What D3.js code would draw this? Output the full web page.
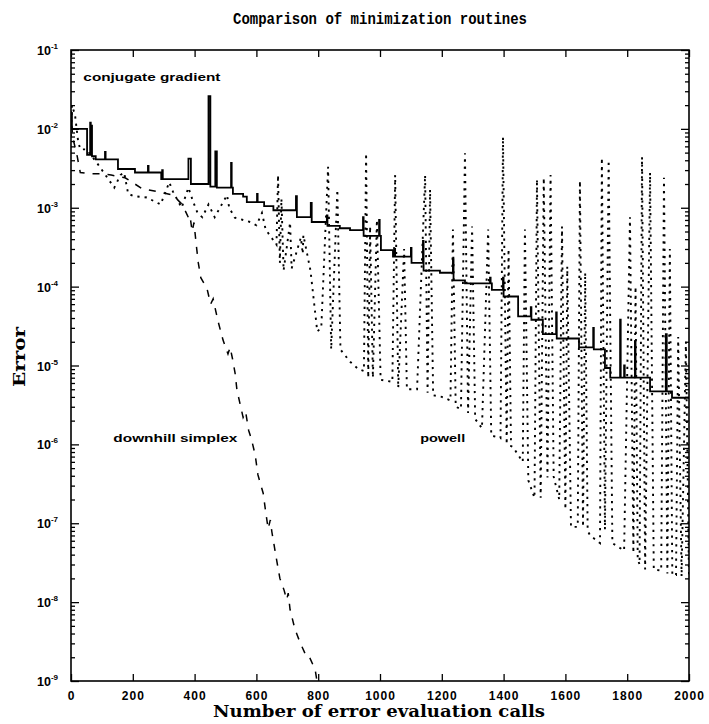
<!DOCTYPE html>
<html>
<head>
<meta charset="utf-8">
<script src="https://cdn.jsdelivr.net/npm/d3@7"></script>
<style>
  body { margin: 0; background: #fff; }
  svg { display: block; }
  .tick line { stroke: #000; stroke-width: 1.3; }
  .domain { display: none; }
</style>
</head>
<body>
<svg id="chart" width="709" height="724"></svg>
<script>
// values

const xTicks = [0, 200, 400, 600, 800, 1000, 1200, 1400, 1600, 1800, 2000];
const yExponents = [-9, -8, -7, -6, -5, -4, -3, -2, -1];

// conjugate gradient: step curve, spikes are narrow steps
const cgCalls = [0, 3, 52, 62, 64, 66, 68, 80, 110, 112, 152, 207, 249, 251, 292, 295, 297,
  380, 388, 445, 451, 467, 472, 518, 520, 524, 557, 569, 602, 604, 625, 655, 728, 731,
  776, 779, 828, 830, 870, 903, 945, 947, 997, 999, 1003, 1042, 1047, 1049, 1100, 1102,
  1139, 1141, 1194, 1236, 1238, 1275, 1356, 1358, 1362, 1398, 1400, 1447, 1488, 1490,
  1527, 1570, 1572, 1644, 1690, 1692, 1728, 1745, 1777, 1779, 1790, 1792, 1825, 1827,
  1874, 1925, 1928, 1945, 2000];
const cgError = [1.6e-2, 1.0e-2, 4.7e-3, 1.2e-2, 4.7e-3, 1.1e-2, 4.5e-3, 4.1e-3, 5.1e-3, 4.1e-3,
  3.1e-3, 2.8e-3, 3.4e-3, 2.8e-3, 2.3e-3, 3.0e-3, 2.3e-3,
  4.2e-3, 2.0e-3, 2.6e-2, 1.85e-3, 5.2e-3, 1.8e-3, 3.7e-3, 1.8e-3, 1.5e-3, 1.38e-3, 1.18e-3,
  1.5e-3, 1.18e-3, 1.05e-3, 9.3e-4, 1.4e-3, 7.6e-4,
  1.15e-3, 6.6e-4, 8.0e-4, 5.9e-4, 5.5e-4, 5.2e-4, 7.6e-4, 4.4e-4, 7.0e-4, 4.4e-4, 2.9e-4,
  2.4e-4, 3.0e-4, 2.4e-4, 3.1e-4, 2.0e-4,
  3.8e-4, 1.6e-4, 1.5e-4, 2.2e-4, 1.2e-4, 1.1e-4, 1.3e-4, 1.1e-4, 9.1e-5, 1.3e-4, 7.5e-5,
  4.2e-5, 5.5e-5, 3.8e-5,
  2.5e-5, 4.7e-5, 2.2e-5, 1.7e-5, 3.0e-5, 1.6e-5, 9.3e-6, 7.0e-6, 3.8e-5, 7.0e-6, 1.0e-5,
  7.0e-6, 2.0e-5, 7.0e-6,
  4.7e-6, 2.5e-5, 4.7e-6, 3.9e-6, 3.9e-6];

// downhill simplex
const simplexCalls = [0, 5, 20, 30, 60, 100, 130, 175, 230, 280, 330, 360, 380, 385, 392, 398,
  405, 412, 420, 440, 452, 460, 468, 477, 492, 508, 515, 523, 531, 537, 557, 565, 575, 583,
  596, 605, 622, 630, 638, 645, 650, 665, 676, 690, 698, 703, 709, 725, 741, 763, 772, 790, 796];
const simplexError = [1.7e-2, 8e-3, 4.5e-3, 2.8e-3, 2.7e-3, 2.7e-3, 2.6e-3, 2.4e-3, 1.75e-3,
  1.6e-3, 1.45e-3, 1.1e-3, 7.5e-4, 8e-4, 5e-4, 6.5e-4,
  3.5e-4, 2e-4, 1.3e-4, 9.5e-5, 6e-5, 7e-5, 5e-5, 3.5e-5, 2.1e-5, 1.4e-5, 1.7e-5, 1.2e-5,
  8e-6, 4.9e-6, 2.2e-6, 2.6e-6, 1.5e-6, 1.2e-6,
  7.4e-7, 4.1e-7, 2.4e-7, 1.4e-7, 8.5e-8, 1.1e-7, 7.8e-8, 3.5e-8, 2e-8, 1.4e-8, 1.07e-8,
  1.3e-8, 8e-9, 4.5e-9, 3.1e-9, 2e-9, 2e-9, 1.4e-9, 1e-9];

// powell: line searches show up as tall spikes
const powellCalls = [0, 3, 13, 23, 30, 50, 84, 140, 160, 172, 185, 205, 245, 290, 318, 330, 358,
  380, 395, 410, 425, 445, 465, 505, 512, 530, 580, 600, 618, 630, 665,
  670, 676, 681, 688, 709, 714, 744, 750, 752, 775, 797, 810,
  832, 842, 862, 872, 880, 905, 930, 948,
  955, 962, 968, 977, 990, 1002, 1040,
  1049, 1059, 1078, 1087, 1120, 1146, 1154, 1162, 1172, 1200, 1228,
  1236, 1245, 1262, 1275, 1285, 1298, 1308, 1330,
  1350, 1360, 1390, 1398, 1410, 1416, 1424, 1430,
  1462, 1469, 1480, 1500, 1508, 1520, 1530, 1542, 1552, 1562, 1580,
  1589, 1600, 1606, 1618, 1640, 1647, 1657, 1664, 1672, 1680, 1712, 1718, 1728, 1740, 1752,
  1790, 1809, 1820, 1827, 1834, 1840, 1848, 1858, 1874, 1886, 1910, 1919, 1930, 1938, 1946,
  1958, 1965, 1976, 1990, 2000];
const powellError = [8e-3, 2.0e-2, 1.5e-2, 7e-3, 5.5e-3, 5.5e-3, 3.7e-3, 1.8e-3, 2.6e-3, 2.8e-3,
  1.5e-3, 1.4e-3, 1.35e-3, 1.1e-3, 2.1e-3, 1.6e-3, 1.0e-3,
  1.8e-3, 1.2e-3, 8.5e-4, 7.6e-4, 1.1e-3, 7.6e-4, 1.45e-3, 1.0e-3, 7.5e-4, 6.6e-4, 6.0e-4,
  8.6e-4, 5.3e-4, 3.4e-4,
  2.6e-3, 2.0e-4, 1.3e-3, 1.6e-4, 6.5e-4, 1.7e-4, 4.2e-4, 2.6e-4, 4.5e-4, 1.6e-4, 2.7e-5, 3.0e-5,
  3.3e-3, 1.6e-5, 1.7e-3, 1.6e-5, 1.45e-5, 1.1e-5, 9e-6, 8.5e-6,
  4.9e-3, 7e-6, 5.8e-4, 7e-6, 7e-4, 6.6e-6, 6.2e-6,
  2.6e-3, 5.2e-6, 3e-4, 5e-6, 5.0e-6, 2.6e-3, 4.5e-6, 1.7e-3, 4.2e-6, 4.0e-6, 3.6e-6,
  5.3e-4, 3.0e-6, 2.8e-6, 4.9e-3, 2.5e-6, 5.8e-4, 2.1e-6, 1.6e-6,
  5.3e-4, 1.3e-6, 1.2e-6, 7.9e-3, 1.0e-6, 3e-4, 9.5e-7, 9.3e-7,
  6e-7, 5.3e-4, 3.5e-7, 2.1e-7, 2.3e-3, 2.1e-7, 2.4e-3, 3.8e-7, 2.6e-3, 3.9e-7, 2e-7,
  5.8e-4, 1.5e-7, 1.8e-4, 9e-8, 9e-8, 2.2e-3, 9e-8, 1.5e-4, 8e-8, 7e-8, 5.6e-8, 4.3e-3, 8.3e-8,
  4.0e-3, 5.6e-8,
  4.5e-8, 7.6e-4, 4.2e-8, 1e-4, 3.5e-8, 3e-8, 4.4e-3, 2.6e-8, 2.8e-3, 2.6e-8, 2.5e-8, 2.4e-3,
  2.3e-8, 3e-4, 2.2e-8,
  2.2e-8, 2.3e-5, 2.1e-8, 2.0e-5, 2.1e-8];

const labels = [
  { text: "conjugate gradient", calls: 40, err: 0.041, width: 137 },
  { text: "downhill simplex", calls: 137, err: 1.07e-6, width: 124 },
  { text: "powell", calls: 1130, err: 1.07e-6, width: 45 }
];

const plot = { left: 71, right: 689, top: 50, bottom: 681 };
const svg = d3.select("#chart");

const x = d3.scaleLinear().domain([0, 2000]).range([plot.left, plot.right]);
const y = d3.scaleLog().domain([1e-9, 1e-1]).range([plot.bottom, plot.top]);

const decades = yExponents.map(e => Math.pow(10, e));
const isDecade = v => Math.abs(Math.log10(v) - Math.round(Math.log10(v))) < 1e-6;
const minorTicks = y.ticks().filter(v => !isDecade(v));

const tickFont = "'Liberation Sans', Arial, sans-serif";

// ticks on all four sides, pointing inward
const bottomAxis = svg.append("g").attr("transform", `translate(0,${plot.bottom})`)
  .call(d3.axisBottom(x).tickValues(xTicks).tickFormat(d3.format("d"))
    .tickSizeInner(-7).tickSizeOuter(0).tickPadding(10));
bottomAxis.selectAll("text")
  .attr("font-family", tickFont).attr("font-weight", "bold").attr("font-size", 12)
  .attr("letter-spacing", 1).attr("fill", "#000");

svg.append("g").attr("transform", `translate(0,${plot.top})`)
  .call(d3.axisTop(x).tickValues(xTicks).tickSizeInner(-7).tickSizeOuter(0).tickFormat(""));

[[d3.axisLeft, plot.left], [d3.axisRight, plot.right]].forEach(([axisFn, px]) => {
  svg.append("g").attr("transform", `translate(${px},0)`)
    .call(axisFn(y).tickValues(decades).tickSizeInner(-8).tickSizeOuter(0).tickFormat(""));
  svg.append("g").attr("transform", `translate(${px},0)`)
    .call(axisFn(y).tickValues(minorTicks).tickSizeInner(-4).tickSizeOuter(0).tickFormat(""));
});

// decade labels 10^-n
const yLab = svg.append("g").selectAll("text").data(yExponents).join("text")
  .attr("x", 58).attr("y", e => y(Math.pow(10, e)) + 5)
  .attr("text-anchor", "end")
  .attr("font-family", tickFont).attr("font-weight", "bold").attr("font-size", 12.5);
yLab.append("tspan").text("10");
yLab.append("tspan").attr("dy", -6).attr("font-size", 8).text(e => String(e));

// frame
svg.append("rect")
  .attr("x", plot.left).attr("y", plot.top)
  .attr("width", plot.right - plot.left).attr("height", plot.bottom - plot.top)
  .attr("fill", "none").attr("stroke", "#000").attr("stroke-width", 1.6);

const zip = (xs, ys) => xs.map((v, i) => [v, ys[i]]);

const line = d3.line().x(d => x(d[0])).y(d => y(d[1]));
const stepLine = d3.line().x(d => x(d[0])).y(d => y(d[1])).curve(d3.curveStepAfter);

svg.append("clipPath").attr("id", "plotclip").append("rect")
  .attr("x", plot.left).attr("y", plot.top)
  .attr("width", plot.right - plot.left).attr("height", plot.bottom - plot.top);

const g = svg.append("g").attr("clip-path", "url(#plotclip)");

g.append("path").datum(zip(powellCalls, powellError))
  .attr("d", line).attr("fill", "none").attr("stroke", "#000")
  .attr("stroke-width", 1.9).attr("stroke-dasharray", "2.2,5");

g.append("path").datum(zip(simplexCalls, simplexError))
  .attr("d", line).attr("fill", "none").attr("stroke", "#000")
  .attr("stroke-width", 1.5).attr("stroke-dasharray", "7,8");

g.append("path").datum(zip(cgCalls, cgError))
  .attr("d", stepLine).attr("fill", "none").attr("stroke", "#000")
  .attr("stroke-width", 1.8);

// curve labels
svg.append("g").selectAll("text").data(labels).join("text")
  .attr("x", d => x(d.calls)).attr("y", d => y(d.err))
  .attr("font-family", tickFont).attr("font-weight", "bold").attr("font-size", 11.5)
  .attr("textLength", d => d.width).attr("lengthAdjust", "spacingAndGlyphs")
  .text(d => d.text);

// titles
svg.append("text")
  .attr("x", 380).attr("y", 24).attr("text-anchor", "middle")
  .attr("font-family", "'Liberation Mono', 'DejaVu Sans Mono', monospace")
  .attr("font-weight", "bold").attr("font-size", 16)
  .attr("textLength", 294).attr("lengthAdjust", "spacingAndGlyphs")
  .text("Comparison of minimization routines");

svg.append("text")
  .attr("x", 379).attr("y", 717).attr("text-anchor", "middle")
  .attr("font-family", "'DejaVu Serif', 'Liberation Serif', serif")
  .attr("font-weight", "bold").attr("font-size", 16)
  .attr("textLength", 332).attr("lengthAdjust", "spacingAndGlyphs")
  .text("Number of error evaluation calls");

svg.append("text")
  .attr("transform", "translate(25,357) rotate(-90)").attr("text-anchor", "middle")
  .attr("font-family", "'DejaVu Serif', 'Liberation Serif', serif")
  .attr("font-weight", "bold").attr("font-size", 16)
  .attr("textLength", 60).attr("lengthAdjust", "spacingAndGlyphs")
  .text("Error");
</script>
</body>
</html>
